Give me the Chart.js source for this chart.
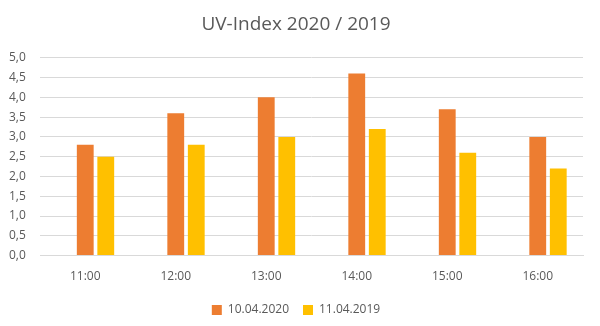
<!DOCTYPE html>
<html>
<head>
<meta charset="utf-8">
<script src="https://cdn.jsdelivr.net/npm/chart.js@4"></script>
<style>
  body { margin: 0; background: #fff; }
  #wrap { width: 600px; height: 326px; }
</style>
</head>
<body>
<div id="wrap"><canvas id="uvChart" width="600" height="326"></canvas></div>
<script>
// Daten
const hours = ['11:00', '12:00', '13:00', '14:00', '15:00', '16:00'];
const uv2020 = [2.8, 3.6, 4.0, 4.6, 3.7, 3.0];
const uv2019 = [2.5, 2.8, 3.0, 3.2, 2.6, 2.2];
// leere Reihe (im Original ausgeblendet, belegt aber einen Platz in jeder Gruppe)
const emptySeries = [null, null, null, null, null, null];
const seriesLabels = ['10.04.2020', '11.04.2019'];

const fontFamily = "'Open Sans', 'Liberation Sans', sans-serif";
const catPct = 0.68;
const barPct = 0.82;

new Chart(document.getElementById('uvChart'), {
    type: 'bar',
    data: {
        labels: hours,
        datasets: [
            {
                label: '',
                data: emptySeries,
                backgroundColor: 'rgba(0,0,0,0)',
                categoryPercentage: catPct,
                barPercentage: barPct
            },
            {
                label: seriesLabels[0],
                data: uv2020,
                backgroundColor: '#ED7D31',
                categoryPercentage: catPct,
                barPercentage: barPct
            },
            {
                label: seriesLabels[1],
                data: uv2019,
                backgroundColor: '#FFC000',
                categoryPercentage: catPct,
                barPercentage: barPct
            }
        ]
    },
    options: {
        responsive: false,
        animation: false,
        layout: { padding: { left: 9, right: 17, top: 6, bottom: 0 } },
        plugins: {
            title: {
                display: true,
                text: 'UV-Index 2020 / 2019',
                color: '#595959',
                font: { family: fontFamily, size: 19, weight: 'normal' },
                padding: { top: 7, bottom: 22 }
            },
            legend: {
                position: 'bottom',
                labels: {
                    color: '#595959',
                    font: { family: fontFamily, size: 12 },
                    boxWidth: 10,
                    boxHeight: 10,
                    padding: 14,
                    filter: function (item) { return item.text !== ''; }
                }
            },
            tooltip: { enabled: false }
        },
        scales: {
            x: {
                grid: { display: false },
                border: { color: '#d9d9d9' },
                ticks: {
                    color: '#595959',
                    font: { family: fontFamily, size: 12 },
                    padding: 6
                }
            },
            y: {
                min: 0,
                max: 5,
                border: { display: false },
                grid: { color: '#d9d9d9', drawTicks: false },
                afterFit: function (scale) { scale.width = 31; },
                ticks: {
                    stepSize: 0.5,
                    color: '#595959',
                    font: { family: fontFamily, size: 12 },
                    crossAlign: 'far',
                    padding: 11,
                    callback: function (value) {
                        return value.toFixed(1).replace('.', ',');
                    }
                }
            }
        }
    }
});
</script>
</body>
</html>
